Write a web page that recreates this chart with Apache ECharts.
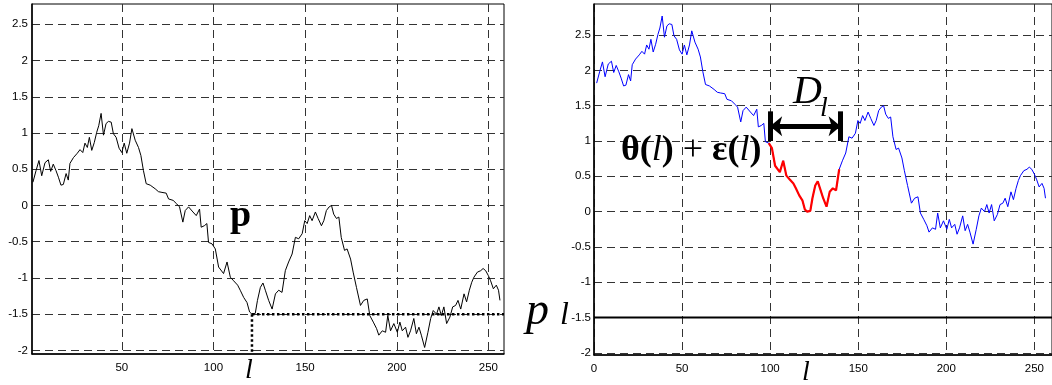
<!DOCTYPE html>
<html>
<head>
<meta charset="utf-8">
<script src="https://cdn.jsdelivr.net/npm/echarts@6/dist/echarts.min.js"></script>
<style>html,body{margin:0;padding:0;background:#fff;}#c{width:1052px;height:385px;}</style>
</head>
<body>
<div id="c"></div>
<script>
// sample positions (index l)
const xs = [
  1.5, 3.2, 4.8, 6.3, 8.1, 9.9, 11.2, 12.6, 14.1, 15.4,
  16.8, 18.1, 19.6, 20.8, 21.7, 23.6, 25.7, 27.2, 28.7, 29.9,
  31.2, 32.3, 33.6, 35.0, 36.3, 37.4, 38.7, 40.0, 41.4, 42.7,
  44.2, 45.4, 46.9, 48.5, 50.0, 51.3, 52.7, 54.2, 55.5, 57.3,
  59.1, 60.4, 61.8, 63.3, 65.5, 68.2, 70.0, 71.9, 74.2, 75.5,
  78.0, 80.0, 81.5, 83.3, 84.6, 86.4, 88.8, 90.6, 92.4, 93.3,
  95.0, 96.4, 97.3, 99.2, 101.0, 102.8, 105.5, 107.4, 109.2, 111.0,
  113.2, 114.6, 116.5, 118.3, 119.7, 121.0, 122.8, 124.0, 125.6, 127.0,
  128.3, 130.1, 132.0, 133.8, 135.6, 137.4, 139.2, 141.0, 142.9, 144.7,
  146.5, 148.4, 149.8, 151.1, 152.5, 153.8, 155.6, 157.1, 158.9, 160.2,
  161.6, 163.1, 164.4, 165.6, 167.1, 168.4, 169.7, 171.5, 172.9, 174.8,
  176.2, 178.0, 180.2, 182.0, 183.9, 185.3, 187.2, 189.0, 190.2, 192.1,
  193.9, 195.1, 196.6, 198.4, 200.3, 201.7, 203.0, 204.8, 206.1, 207.5,
  209.3, 210.7, 212.1, 213.4, 215.2, 217.0, 218.5, 219.9, 221.7, 223.0,
  224.3, 225.7, 227.2, 229.0, 230.5, 232.1, 233.4, 234.9, 236.7, 238.1,
  239.6, 240.9, 242.1, 244.0, 245.8, 247.1, 248.5, 250.0, 251.2, 252.7,
  254.3, 255.5, 256.3
];
// left panel: p
const pLeft = [
  0.32, 0.48, 0.62, 0.41, 0.59, 0.63, 0.47, 0.57, 0.48, 0.39,
  0.28, 0.29, 0.44, 0.35, 0.58, 0.66, 0.72, 0.77, 0.73, 0.86,
  0.80, 0.94, 0.76, 0.87, 1.01, 1.10, 1.27, 0.97, 1.13, 1.16,
  1.15, 0.99, 0.94, 0.79, 0.73, 0.86, 0.72, 0.86, 1.06, 0.90,
  0.80, 0.69, 0.48, 0.30, 0.28, 0.23, 0.19, 0.18, 0.17, 0.09,
  0.07, 0.02, -0.02, -0.23, -0.07, -0.02, -0.09, -0.14, -0.05, -0.30,
  -0.28, -0.25, -0.51, -0.53, -0.60, -0.85, -0.94, -0.78, -0.99, -1.04,
  -1.10, -1.17, -1.27, -1.34, -1.47, -1.50, -1.49, -1.31, -1.13, -1.07,
  -1.17, -1.31, -1.43, -1.22, -1.17, -1.20, -0.90, -0.78, -0.67, -0.44,
  -0.46, -0.39, -0.21, -0.25, -0.14, -0.21, -0.09, -0.18, -0.28, -0.21,
  -0.07, -0.02, 0.00, -0.12, -0.18, -0.16, -0.44, -0.62, -0.60, -0.74,
  -0.92, -1.13, -1.38, -1.31, -1.29, -1.52, -1.61, -1.70, -1.79, -1.73,
  -1.75, -1.52, -1.73, -1.63, -1.75, -1.61, -1.73, -1.68, -1.82, -1.73,
  -1.56, -1.77, -1.68, -1.79, -1.96, -1.75, -1.56, -1.45, -1.50, -1.40,
  -1.52, -1.40, -1.63, -1.54, -1.40, -1.38, -1.31, -1.43, -1.22, -1.33,
  -1.17, -1.06, -0.99, -0.92, -0.90, -0.87, -0.90, -0.97, -1.04, -1.15,
  -1.10, -1.17, -1.31
];
// right panel: shifted signal
const pRight = [
  1.82, 1.98, 2.12, 1.91, 2.09, 2.13, 1.97, 2.07, 1.98, 1.89,
  1.78, 1.79, 1.94, 1.85, 2.08, 2.16, 2.22, 2.27, 2.23, 2.36,
  2.30, 2.44, 2.26, 2.37, 2.51, 2.60, 2.77, 2.47, 2.63, 2.66,
  2.65, 2.49, 2.44, 2.29, 2.23, 2.36, 2.22, 2.36, 2.56, 2.40,
  2.30, 2.19, 1.98, 1.80, 1.78, 1.73, 1.69, 1.68, 1.67, 1.59,
  1.57, 1.52, 1.48, 1.27, 1.43, 1.48, 1.41, 1.36, 1.45, 1.20,
  1.22, 1.25, 0.99, 0.97, 0.90, 0.65, 0.56, 0.72, 0.51, 0.46,
  0.40, 0.33, 0.23, 0.16, 0.03, 0.00, 0.01, 0.19, 0.37, 0.43,
  0.33, 0.19, 0.07, 0.28, 0.33, 0.30, 0.60, 0.72, 0.83, 1.06,
  1.04, 1.11, 1.29, 1.25, 1.36, 1.29, 1.41, 1.32, 1.22, 1.29,
  1.43, 1.48, 1.50, 1.38, 1.32, 1.34, 1.06, 0.88, 0.90, 0.76,
  0.58, 0.37, 0.12, 0.19, 0.21, -0.02, -0.11, -0.20, -0.29, -0.23,
  -0.25, -0.02, -0.23, -0.13, -0.25, -0.11, -0.23, -0.18, -0.32, -0.23,
  -0.06, -0.27, -0.18, -0.29, -0.46, -0.25, -0.06, 0.05, 0.00, 0.10,
  -0.02, 0.10, -0.13, -0.04, 0.10, 0.12, 0.19, 0.07, 0.28, 0.17,
  0.33, 0.44, 0.51, 0.58, 0.60, 0.63, 0.60, 0.53, 0.46, 0.35,
  0.40, 0.33, 0.19
];
const yTicks = [-2, -1.5, -1, -0.5, 0, 0.5, 1, 1.5, 2, 2.5];
const xTicksLeft = [50, 100, 150, 200, 250];
const xTicksRight = [0, 50, 100, 150, 200, 250];
const lIndex = 121;        // position l
const pLevel = -1.5;       // p_l level
const segStart = 99;       // highlighted window [l-D, l]
const segEnd = 140;
const arrowStart = 100, arrowEnd = 140, arrowLevel = 1.21;
const barLow = 1.0, barHigh = 1.42;

const leftData = xs.map((x, i) => [x, pLeft[i]]);
const rightData = xs.map((x, i) => [x, pRight[i]]);
const redData = rightData.filter(d => d[0] >= segStart && d[0] <= segEnd);

const labelStyle = { color: '#000', fontFamily: 'Liberation Sans', fontSize: 11.5 };
const gridLine = { show: true, lineStyle: { color: '#333', width: 1, type: [8, 5] } };

function xAxis(gridIndex, min, max, ticks) {
  return {
    type: 'value', gridIndex, min, max,
    axisLine: { show: true, onZero: false, lineStyle: { color: '#000', width: 1.5 } },
    axisTick: { show: false, customValues: ticks },
    axisLabel: { customValues: ticks, margin: 8, ...labelStyle },
    splitLine: gridLine
  };
}
function yAxis(gridIndex, min, max, margin) {
  return {
    type: 'value', gridIndex, min, max,
    axisLine: { show: true, onZero: false, lineStyle: { color: '#000', width: 1.5 } },
    axisTick: { show: false, customValues: yTicks },
    axisLabel: { customValues: yTicks, margin, ...labelStyle },
    splitLine: gridLine
  };
}

const serif = 'Liberation Serif';
const chart = echarts.init(document.getElementById('c'));
chart.setOption({
  animation: false,
  backgroundColor: '#fff',
  grid: [
    { left: 32, top: 4, width: 472, height: 350, show: true, borderColor: '#000', borderWidth: 1 },
    { left: 594, top: 4, width: 465, height: 351, show: true, borderColor: '#000', borderWidth: 1 }
  ],
  xAxis: [xAxis(0, 1, 258.5, xTicksLeft), xAxis(1, 0, 260, xTicksRight)],
  yAxis: [yAxis(0, -2.05, 2.78, 4), yAxis(1, -2.03, 2.94, 3)],
  series: [
    { type: 'line', xAxisIndex: 0, yAxisIndex: 0, data: leftData, showSymbol: false,
      lineStyle: { color: '#000', width: 1 }, z: 3 },
    { type: 'line', xAxisIndex: 0, yAxisIndex: 0, data: [[lIndex, pLevel], [258.5, pLevel]], showSymbol: false,
      lineStyle: { color: '#000', width: 2.5, type: 'dotted' }, z: 4 },
    { type: 'line', xAxisIndex: 0, yAxisIndex: 0, data: [[lIndex, pLevel], [lIndex, -2.05]], showSymbol: false,
      lineStyle: { color: '#000', width: 2.5, type: 'dotted' }, z: 4 },
    { type: 'line', xAxisIndex: 1, yAxisIndex: 1, data: rightData, showSymbol: false,
      lineStyle: { color: '#0000ff', width: 1 }, z: 3 },
    { type: 'line', xAxisIndex: 1, yAxisIndex: 1, data: redData, showSymbol: false,
      lineStyle: { color: '#ff0000', width: 2.2 }, z: 4 },
    { type: 'line', xAxisIndex: 1, yAxisIndex: 1, data: [[0, pLevel], [260, pLevel]], showSymbol: false,
      lineStyle: { color: '#000', width: 2 }, z: 4 },
    { type: 'line', xAxisIndex: 1, yAxisIndex: 1, data: [], z: 5,
      markLine: {
        silent: true, animation: false, label: { show: false },
        data: [
          [{ coord: [arrowStart, arrowLevel], symbol: 'arrow', symbolSize: [15, 12] },
           { coord: [arrowEnd, arrowLevel], symbol: 'arrow', symbolSize: [15, 12] }],
          [{ coord: [arrowStart, barLow], symbol: 'none' }, { coord: [arrowStart, barHigh], symbol: 'none' }],
          [{ coord: [arrowEnd, barLow], symbol: 'none' }, { coord: [arrowEnd, barHigh], symbol: 'none' }]
        ],
        lineStyle: { color: '#000', width: 5, type: 'solid' }
      }
    }
  ],
  graphic: [
    { type: 'text', x: 230, y: 216, z: 10, style: { text: 'p', fill: '#000', font: 'bold 38px "' + serif + '"', verticalAlign: 'middle' } },
    { type: 'text', x: 249, y: 371, z: 10, style: { text: 'l', fill: '#000', font: 'italic 28px "' + serif + '"', align: 'center', verticalAlign: 'middle' } },
    { type: 'text', x: 806, y: 373, z: 10, style: { text: 'l', fill: '#000', font: 'italic 28px "' + serif + '"', align: 'center', verticalAlign: 'middle' } },
    { type: 'text', x: 526, y: 312, z: 10, style: { text: 'p', fill: '#000', font: 'italic 46px "' + serif + '"', verticalAlign: 'middle' } },
    { type: 'text', x: 560, y: 316, z: 10, style: { text: 'l', fill: '#000', font: 'italic 32px "' + serif + '"', verticalAlign: 'middle' } },
    { type: 'text', x: 793, y: 92, z: 10, style: { text: 'D', fill: '#000', font: 'italic 40px "' + serif + '"', verticalAlign: 'middle' } },
    { type: 'text', x: 820, y: 109, z: 10, style: { text: 'l', fill: '#000', font: 'italic 28px "' + serif + '"', verticalAlign: 'middle' } },
    { type: 'text', x: 621, y: 151, z: 10, style: {
        text: '{b|θ(}{i|l}{b|)}{n| + }{b|ε(}{i|l}{b|)}', fill: '#000', verticalAlign: 'middle',
        rich: {
          b: { font: 'bold 36px "' + serif + '"', fill: '#000' },
          i: { font: 'italic 36px "' + serif + '"', fill: '#000' },
          n: { font: '36px "' + serif + '"', fill: '#000' }
        }
      } }
  ]
});
</script>
</body>
</html>
